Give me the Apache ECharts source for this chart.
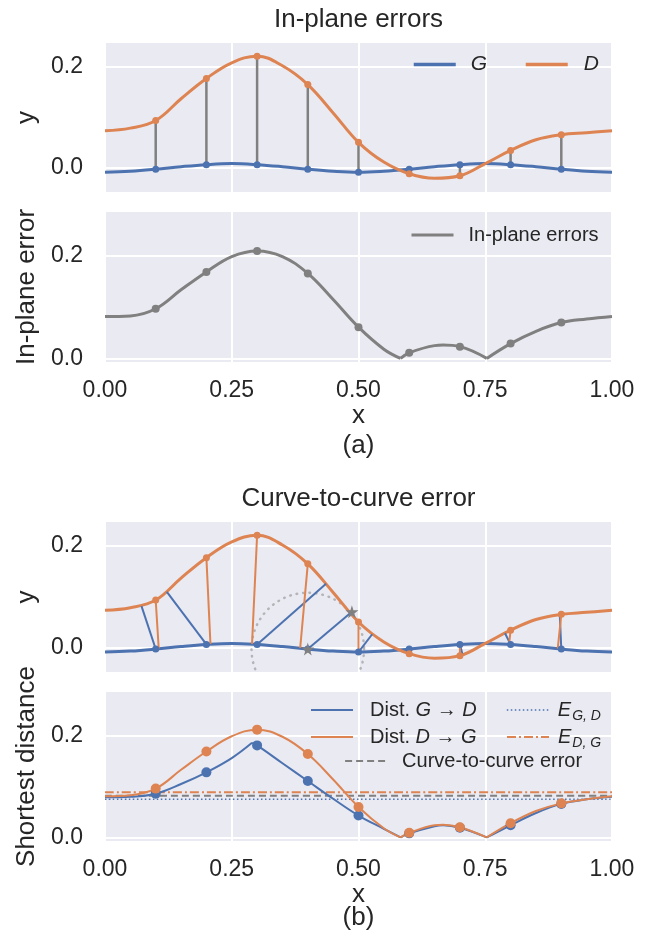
<!DOCTYPE html>
<html>
<head>
<meta charset="utf-8">
<title>In-plane errors / Curve-to-curve error</title>
<script src="https://cdn.jsdelivr.net/npm/echarts@6/dist/echarts.min.js"></script>
<style>
html, body { margin: 0; padding: 0; background: #ffffff; }
#main { width: 651px; height: 941px; }
</style>
</head>
<body>
<div id="main"></div>
<script>
// ---- values ----
var xTicks = [0, 0.25, 0.5, 0.75, 1];
var yTicks = [0, 0.2];
var sampleX = [0.1, 0.2, 0.3, 0.4, 0.5, 0.6, 0.7, 0.8, 0.9];

// ground truth G and detected D curves
var curveX = [0, 0.05, 0.1, 0.15, 0.2, 0.25, 0.3, 0.35, 0.4, 0.45, 0.5, 0.55, 0.6, 0.65, 0.7, 0.75, 0.8, 0.85, 0.9, 0.95, 1.0];
var gVals = [-0.009, -0.007, -0.003, 0.002, 0.006, 0.008, 0.006, 0.002, -0.003, -0.007, -0.009, -0.007, -0.003, 0.002, 0.006, 0.008, 0.006, 0.002, -0.003, -0.007, -0.009];
var dVals = [0.073, 0.078, 0.093, 0.136, 0.176, 0.207, 0.220, 0.201, 0.164, 0.108, 0.050, 0.011, -0.012, -0.021, -0.016, 0.008, 0.034, 0.055, 0.065, 0.069, 0.073];

// in-plane error and the two shortest distances
var errX = [0, 0.05, 0.1, 0.15, 0.2, 0.25, 0.3, 0.35, 0.4, 0.45, 0.5, 0.55, 0.583, 0.6, 0.65, 0.667, 0.7, 0.753, 0.8, 0.85, 0.9, 0.95, 1.0];
var inPlaneVals = [0.082, 0.083, 0.097, 0.134, 0.169, 0.199, 0.210, 0.199, 0.166, 0.115, 0.061, 0.018, 0, 0.011, 0.025, 0.026, 0.023, 0, 0.029, 0.053, 0.070, 0.077, 0.082];
var distDGVals = [0.081, 0.083, 0.096, 0.133, 0.169, 0.199, 0.212, 0.198, 0.164, 0.114, 0.060, 0.018, 0, 0.009, 0.024, 0.025, 0.020, 0, 0.028, 0.052, 0.067, 0.075, 0.081];
var distGDX = [0, 0.05, 0.1, 0.15, 0.2, 0.25, 0.29, 0.3, 0.35, 0.4, 0.45, 0.5, 0.55, 0.583, 0.6, 0.65, 0.667, 0.7, 0.753, 0.8, 0.85, 0.9, 0.95, 1.0];
var distGDVals = [0.079, 0.080, 0.086, 0.105, 0.128, 0.156, 0.186, 0.181, 0.146, 0.111, 0.076, 0.043, 0.017, 0, 0.008, 0.022, 0.024, 0.019, 0, 0.024, 0.048, 0.066, 0.075, 0.080];
var cuspX = [0.29, 0.583, 0.753];

// feet of the shortest-distance segments (panel b)
var gdFootX = [0.072, 0.122, 0.436, 0.487, 0.527, 0.596, 0.705, 0.789, 0.897];
var gdFootY = [0.081, 0.109, 0.125, 0.070, 0.026, -0.010, -0.013, 0.028, 0.064];
var dgFootX = [0.106, 0.208, 0.290, 0.385, 0.500, 0.599, 0.700, 0.797, 0.893];
var dgFootY = [-0.002, 0.007, 0.007, -0.001, -0.009, -0.003, 0.006, 0.006, -0.002];

// highlighted pair and its distance circle
var starX = [0.4, 0.487];
var starY = [-0.003, 0.070];
var circleR = 0.111;

// mean errors
var eGD = 0.075;
var eDG = 0.089;
var c2c = 0.082;

var BLUE = '#4C72B0', ORANGE = '#DD8452', GRAY = '#808080', INK = '#262626';
var FONT = "'Liberation Sans', Arial, sans-serif";

function pairs(xs, ys) {
	var out = [];
	for (var i = 0; i < xs.length; i++) out.push([xs[i], ys[i]]);
	return out;
}
// points of a curve that sit on the sample x positions
function atSamples(xs, ys) {
	var out = [];
	for (var i = 0; i < xs.length; i++) {
		for (var j = 0; j < sampleX.length; j++) {
			if (Math.abs(xs[i] - sampleX[j]) < 1e-9) out.push([xs[i], ys[i]]);
		}
	}
	return out;
}
// split a curve at its kinks so the smoothing keeps them sharp
function pieces(xs, ys) {
	var out = [], cur = [];
	for (var i = 0; i < xs.length; i++) {
		cur.push([xs[i], ys[i]]);
		if (i > 0 && i < xs.length - 1 && cuspX.indexOf(xs[i]) >= 0) {
			out.push(cur);
			cur = [[xs[i], ys[i]]];
		}
	}
	out.push(cur);
	return out;
}

var gSamples = atSamples(curveX, gVals);
var dSamples = atSamples(curveX, dVals);

function lineSeries(name, g, data, color, width, z, dash) {
	return {
		type: 'line', name: name, xAxisIndex: g, yAxisIndex: g, data: data,
		smooth: 0.4, symbol: 'none', z: z || 3, silent: true,
		lineStyle: { color: color, width: width, type: dash || 'solid' },
		itemStyle: { color: color }
	};
}
function dotSeries(name, g, data, color, size, z, symbol) {
	return {
		type: 'scatter', name: name, xAxisIndex: g, yAxisIndex: g, data: data,
		symbol: symbol || 'circle', symbolSize: size, z: z || 5, silent: true,
		itemStyle: { color: color, opacity: 1 }
	};
}
function segSeries(name, g, data, color, width, z) {
	return {
		type: 'custom', name: name, xAxisIndex: g, yAxisIndex: g, z: z || 2, clip: true, silent: true,
		encode: { x: [0, 2], y: [1, 3] },
		renderItem: function (params, api) {
			var a = api.coord([api.value(0), api.value(1)]);
			var b = api.coord([api.value(2), api.value(3)]);
			return { type: 'line', shape: { x1: a[0], y1: a[1], x2: b[0], y2: b[1] },
				style: { stroke: color, lineWidth: width } };
		},
		data: data
	};
}

var series = [];
// panel (a) top: curves with vertical in-plane error bars
var vBars = [];
for (var i = 0; i < gSamples.length; i++) vBars.push([gSamples[i][0], gSamples[i][1], dSamples[i][0], dSamples[i][1]]);
series.push(segSeries('bars', 0, vBars, GRAY, 2.5, 2));
series.push(lineSeries('G', 0, pairs(curveX, gVals), BLUE, 3, 3));
series.push(lineSeries('D', 0, pairs(curveX, dVals), ORANGE, 3, 3));
series.push(dotSeries('gPts', 0, gSamples, BLUE, 7));
series.push(dotSeries('dPts', 0, dSamples, ORANGE, 7));

// panel (a) bottom: in-plane errors
pieces(errX, inPlaneVals).forEach(function (p) {
	series.push(lineSeries('In-plane errors', 1, p, GRAY, 3, 3));
});
series.push(dotSeries('ipPts', 1, atSamples(errX, inPlaneVals), GRAY, 8));

// panel (b) top: shortest distance segments
var gdSegs = [], dgSegs = [];
for (var k = 0; k < sampleX.length; k++) {
	gdSegs.push([gSamples[k][0], gSamples[k][1], gdFootX[k], gdFootY[k]]);
	dgSegs.push([dSamples[k][0], dSamples[k][1], dgFootX[k], dgFootY[k]]);
}
series.push({
	type: 'custom', name: 'circle', xAxisIndex: 2, yAxisIndex: 2, z: 1, clip: true, silent: true,
	encode: { x: 0, y: 1 },
	renderItem: function (params, api) {
		var c = api.coord([api.value(0), api.value(1)]);
		var e = api.coord([api.value(0) + api.value(2), api.value(1)]);
		return { type: 'circle', shape: { cx: c[0], cy: c[1], r: e[0] - c[0] },
			style: { fill: null, stroke: '#b4b4b8', lineWidth: 2.5, lineDash: [0.5, 6], lineCap: 'round' } };
	},
	data: [[starX[0], starY[0], circleR]]
});
series.push(lineSeries('G', 2, pairs(curveX, gVals), BLUE, 3, 3));
series.push(lineSeries('D', 2, pairs(curveX, dVals), ORANGE, 3, 3));
series.push(segSeries('gdSegs', 2, gdSegs, BLUE, 2, 4));
series.push(segSeries('dgSegs', 2, dgSegs, ORANGE, 2, 4));
series.push(dotSeries('gPts2', 2, gSamples, BLUE, 7));
series.push(dotSeries('dPts2', 2, dSamples, ORANGE, 7));
series.push(dotSeries('stars', 2, pairs(starX, starY), GRAY, 13, 6,
	'path://M50,0 L61,35 L98,35 L68,57 L79,91 L50,70 L21,91 L32,57 L2,35 L39,35 Z'));

// panel (b) bottom: distances and mean errors
series.push(lineSeries('eGD', 3, [[0, eGD], [1, eGD]], BLUE, 1.6, 2, [1.5, 2.5]));
series.push(lineSeries('eDG', 3, [[0, eDG], [1, eDG]], ORANGE, 2, 2, [9, 3, 2, 3]));
series.push(lineSeries('Curve-to-curve error', 3, [[0, c2c], [1, c2c]], GRAY, 2.2, 2, [7, 4]));
pieces(distGDX, distGDVals).forEach(function (p) {
	series.push(lineSeries('distGD', 3, p, BLUE, 2, 3));
});
pieces(errX, distDGVals).forEach(function (p) {
	series.push(lineSeries('distDG', 3, p, ORANGE, 2, 3));
});
series.push(dotSeries('gdPts', 3, atSamples(distGDX, distGDVals), BLUE, 10));
series.push(dotSeries('dgPts', 3, atSamples(errX, distDGVals), ORANGE, 10));

// ---- layout ----
var gridTops = [43, 212, 522, 692];
var gridHeights = [149, 150, 150, 149];
var yMin = [-0.048, -0.007, -0.048, -0.007];
var yMax = [0.246, 0.286, 0.246, 0.286];
var yNames = ['y', 'In-plane error', 'y', 'Shortest distance'];

var grids = [], xAxes = [], yAxes = [];
for (var g = 0; g < 4; g++) {
	grids.push({ left: 105, width: 507, top: gridTops[g], height: gridHeights[g],
		show: true, backgroundColor: '#EAEAF2', borderWidth: 0 });
	var bottomAxis = (g === 1 || g === 3);
	xAxes.push({
		type: 'value', gridIndex: g, min: 0, max: 1, interval: 0.25,
		axisLine: { show: false }, axisTick: { show: false },
		axisLabel: { show: bottomAxis, margin: 17, fontSize: 23, color: INK, fontFamily: FONT,
			formatter: function (v) { return v.toFixed(2); } },
		splitLine: { show: true, lineStyle: { color: '#ffffff', width: 2 } },
		name: bottomAxis ? 'x' : '', nameLocation: 'middle', nameGap: 41,
		nameTextStyle: { fontSize: 26, color: INK, fontFamily: FONT }
	});
	yAxes.push({
		type: 'value', gridIndex: g, min: yMin[g], max: yMax[g],
		axisLine: { show: false },
		axisTick: { show: false, customValues: yTicks },
		axisLabel: { customValues: yTicks, margin: 22, fontSize: 23, color: INK, fontFamily: FONT,
			formatter: function (v) { return v.toFixed(1); } },
		splitLine: { show: true, lineStyle: { color: '#ffffff', width: 2 } },
		name: yNames[g], nameLocation: 'middle', nameRotate: 90, nameGap: 63,
		nameTextStyle: { fontSize: 26, color: INK, fontFamily: FONT }
	});
}

function legendAt(name, left, top, lineW, pad, fmt, extraText) {
	var ts = { fontSize: 20, color: INK, fontFamily: FONT, padding: [0, 0, 0, pad] };
	if (extraText) for (var key in extraText) ts[key] = extraText[key];
	return {
		data: [name], left: left, top: top, padding: 0, itemGap: 0,
		itemWidth: 42, itemHeight: 14, selectedMode: false,
		itemStyle: { opacity: 0 },
		lineStyle: { width: lineW }, textStyle: ts,
		formatter: fmt || '{name}'
	};
}
var richSet = {
	i: { fontStyle: 'italic', fontSize: 20, fontFamily: FONT, color: INK },
	n: { fontSize: 20, fontFamily: FONT, color: INK },
	s: { fontStyle: 'italic', fontSize: 14, fontFamily: FONT, color: INK, padding: [12, 0, 0, 1] }
};
var legends = [
	legendAt('G', 412, 54, 3.5, 10, null, { fontStyle: 'italic', fontSize: 21 }),
	legendAt('D', 524, 54, 3.5, 11, null, { fontStyle: 'italic', fontSize: 21 }),
	legendAt('In-plane errors', 410, 225, 3, 10),
	legendAt('distGD', 310, 700, 2, 12, function () { return '{n|Dist. }{i|G}{n| → }{i|D}'; }, { rich: richSet }),
	legendAt('distDG', 310, 727, 2, 12, function () { return '{n|Dist. }{i|D}{n| → }{i|G}'; }, { rich: richSet }),
	legendAt('eGD', 506, 700, 1.6, 4, function () { return '{i|E}{s|G, D}'; }, { rich: richSet }),
	legendAt('eDG', 506, 727, 2, 4, function () { return '{i|E}{s|D, G}'; }, { rich: richSet }),
	legendAt('Curve-to-curve error', 344, 751, 2.2, 10)
];

function label(text, x, y, size) {
	return { type: 'text', x: x, y: y, silent: true,
		style: { text: text, align: 'center', verticalAlign: 'middle', fontSize: size, fill: INK, fontFamily: FONT } };
}

var chart = echarts.init(document.getElementById('main'), null, { renderer: 'canvas' });
chart.setOption({
	animation: false,
	backgroundColor: '#ffffff',
	textStyle: { fontFamily: FONT },
	grid: grids,
	xAxis: xAxes,
	yAxis: yAxes,
	legend: legends,
	graphic: [
		label('In-plane errors', 358.5, 20, 26),
		label('(a)', 358.5, 446, 26),
		label('Curve-to-curve error', 358.5, 499, 26),
		label('(b)', 358.5, 918, 26)
	],
	series: series
});
</script>
</body>
</html>
